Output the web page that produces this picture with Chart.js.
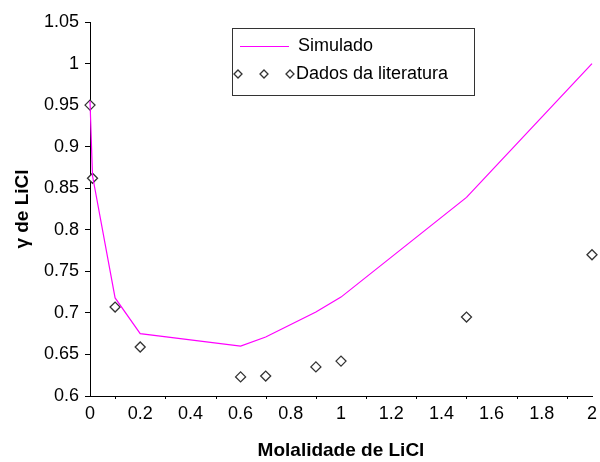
<!DOCTYPE html>
<html>
<head>
<meta charset="utf-8">
<script src="https://cdn.jsdelivr.net/npm/chart.js@4/dist/chart.umd.min.js"></script>
<style>
  html, body { margin: 0; padding: 0; background: #fff; }
  #wrap { width: 600px; height: 462px; }
</style>
</head>
<body>
<div id="wrap"><canvas id="grafico"></canvas></div>
<script>
const molalidade = [0, 0.01, 0.1, 0.2, 0.6, 0.7, 0.9, 1.0, 1.5, 2.0];
const simulado = [0.955, 0.865, 0.718, 0.675, 0.660, 0.671, 0.701, 0.719, 0.839, 1.0];
const literatura = [0.95, 0.862, 0.707, 0.659, 0.623, 0.624, 0.635, 0.642, 0.695, 0.77];

const magenta = '#ff00ff';
const fonte = 'Liberation Sans, Arial, sans-serif';

const pontosSim = molalidade.map((x, i) => ({ x: x, y: simulado[i] }));
const pontosLit = molalidade.map((x, i) => ({ x: x, y: literatura[i] }));

// minor ticks on x axis + legend box
const extras = {
  id: 'extras',
  afterDraw(chart) {
    const c = chart.ctx;
    const sx = chart.scales.x;
    const area = chart.chartArea;
    c.save();
    c.strokeStyle = '#000';
    c.lineWidth = 1;
    for (let v = 0.1; v < 2; v += 0.2) {
      const px = Math.round(sx.getPixelForValue(v)) + 0.5;
      c.beginPath();
      c.moveTo(px, area.bottom);
      c.lineTo(px, area.bottom + 3);
      c.stroke();
    }

    // legend
    const lx = 232.5, ly = 28.5, lw = 242, lh = 67;
    c.fillStyle = '#fff';
    c.fillRect(lx, ly, lw, lh);
    c.strokeStyle = '#333';
    c.strokeRect(lx, ly, lw, lh);

    c.strokeStyle = magenta;
    c.lineWidth = 1.2;
    c.beginPath();
    c.moveTo(240, 46.5);
    c.lineTo(289, 46.5);
    c.stroke();

    c.strokeStyle = '#333';
    c.lineWidth = 1.3;
    [238, 264, 290].forEach(dx => {
      c.beginPath();
      c.moveTo(dx, 70);
      c.lineTo(dx + 4, 74);
      c.lineTo(dx, 78);
      c.lineTo(dx - 4, 74);
      c.closePath();
      c.fillStyle = '#fff';
      c.fill();
      c.stroke();
    });

    c.fillStyle = '#000';
    c.font = '18px ' + fonte;
    c.textBaseline = 'middle';
    c.textAlign = 'left';
    c.fillText('Simulado', 298, 46);
    c.fillText('Dados da literatura', 296, 74);
    c.restore();
  }
};

new Chart(document.getElementById('grafico'), {
  type: 'scatter',
  data: {
    datasets: [{
      label: 'Simulado',
      data: pontosSim,
      showLine: true,
      borderColor: magenta,
      borderWidth: 1.2,
      pointRadius: 0,
      tension: 0
    }, {
      label: 'Dados da literatura',
      data: pontosLit,
      showLine: false,
      pointStyle: 'rectRot',
      pointRadius: 5,
      backgroundColor: '#fff',
      borderColor: '#333',
      borderWidth: 1.3
    }]
  },
  options: {
    responsive: true,
    maintainAspectRatio: false,
    animation: false,
    clip: false,
    layout: { padding: { top: 22, right: 8, left: 0, bottom: 0 } },
    plugins: {
      legend: { display: false },
      tooltip: { enabled: false }
    },
    scales: {
      x: {
        type: 'linear',
        min: 0,
        max: 2,
        afterFit(s) { s.height = 66; },
        border: { color: '#000', width: 1 },
        grid: { display: false, drawOnChartArea: false, drawTicks: true, tickLength: 5, color: '#000' },
        ticks: {
          stepSize: 0.2,
          color: '#000',
          font: { family: fonte, size: 18 },
          padding: 2,
          callback: v => Math.round(v * 10) / 10
        },
        title: {
          display: true,
          text: 'Molalidade de LiCl',
          color: '#000',
          font: { family: fonte, size: 19, weight: 'bold' },
          padding: { top: 4, bottom: 0 }
        }
      },
      y: {
        min: 0.6,
        max: 1.05,
        afterFit(s) { s.width = 90; },
        border: { color: '#000', width: 1 },
        grid: { drawOnChartArea: false, drawTicks: true, tickLength: 5, color: '#000' },
        ticks: {
          stepSize: 0.05,
          color: '#000',
          font: { family: fonte, size: 18 },
          padding: 6,
          callback: v => Math.round(v * 100) / 100
        },
        title: {
          display: true,
          text: 'γ de LiCl',
          color: '#000',
          font: { family: fonte, size: 19, weight: 'bold' },
          padding: { top: 11, bottom: 4 }
        }
      }
    }
  },
  plugins: [extras]
});
</script>
</body>
</html>
